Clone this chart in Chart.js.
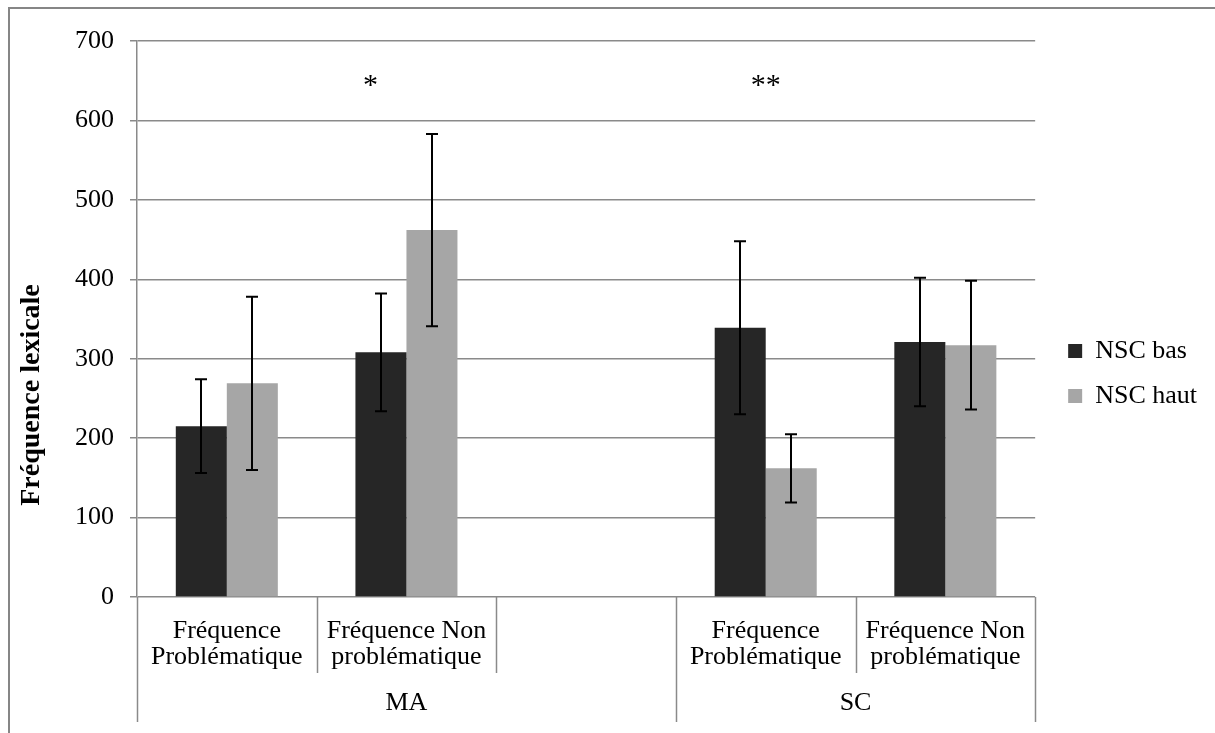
<!DOCTYPE html>
<html>
<head>
<meta charset="utf-8">
<script src="https://cdn.jsdelivr.net/npm/chart.js@4.4.0/dist/chart.umd.min.js"></script>
<style>
  html, body { margin: 0; padding: 0; background: #fff; }
  #chart { display: block; }
</style>
</head>
<body>
<canvas id="chart" width="1215" height="733"></canvas>
<script>
// categories (the third slot is the empty gap at the end of the MA group)
const categories = [
    ['Fréquence', 'Problématique'],
    ['Fréquence Non', 'problématique'],
    '',
    ['Fréquence', 'Problématique'],
    ['Fréquence Non', 'problématique']
];
const groups = ['MA', 'SC'];
const groupSizes = [3, 2];

// series
const seriesNames = ['NSC bas', 'NSC haut'];
const nscBas = [215, 308, null, 339, 321];
const nscHaut = [269, 462, null, 162, 317];
const nscBasErr = [59, 74, null, 109, 81];
const nscHautErr = [109, 121, null, 43, 81];

// y axis ticks
const yTicks = [0, 100, 200, 300, 400, 500, 600, 700];
const yTitle = 'Fréquence lexicale';

// significance marks
const starText = ['*', '**'];
const starX = [0.8, 3.0];
const starY = [648, 648];

const FONT = '"Liberation Serif", "Times New Roman", serif';
const GRID = '#8a8a8a';

// group axis: one tick in the middle of each group
const groupBounds = [0];
groupSizes.forEach(n => groupBounds.push(groupBounds[groupBounds.length - 1] + n));
const groupMids = groups.map((g, i) => (groupBounds[i] + groupBounds[i + 1]) / 2);

const frame = {
    id: 'frame',
    beforeDraw(chart) {
        const ctx = chart.ctx;
        ctx.save();
        ctx.fillStyle = '#fff';
        ctx.fillRect(0, 0, chart.width, chart.height);
        ctx.strokeStyle = '#868686';
        ctx.lineWidth = 2;
        ctx.beginPath();
        ctx.moveTo(9, chart.height);
        ctx.lineTo(9, 8);
        ctx.lineTo(chart.width, 8);
        ctx.stroke();
        ctx.restore();
    }
};

// y title drawn by hand so it can sit lower than the plot centre, as in the original
const yTitlePlugin = {
    id: 'yTitle',
    afterDraw(chart) {
        const ctx = chart.ctx;
        ctx.save();
        ctx.translate(32, 395);
        ctx.rotate(-Math.PI / 2);
        ctx.fillStyle = '#000';
        ctx.font = 'bold 28px ' + FONT;
        ctx.textAlign = 'center';
        ctx.textBaseline = 'middle';
        ctx.fillText(yTitle, 0, 0);
        ctx.restore();
    }
};

// separators between categories and between groups, below the axis
const separators = {
    id: 'separators',
    afterDraw(chart) {
        const g = chart.scales.group;
        const top = chart.chartArea.bottom;
        const ctx = chart.ctx;
        ctx.save();
        ctx.strokeStyle = GRID;
        ctx.lineWidth = 1.5;
        for (let b = 0; b <= categories.length; b++) {
            const x = Math.round(g.getPixelForValue(b)) + 0.5;
            const long = groupBounds.includes(b);
            ctx.beginPath();
            ctx.moveTo(x, top);
            ctx.lineTo(x, long ? 722 : 673);
            ctx.stroke();
        }
        ctx.restore();
    }
};

const errorBars = {
    id: 'errorBars',
    afterDatasetsDraw(chart) {
        const errs = [nscBasErr, nscHautErr];
        const y = chart.scales.y;
        const ctx = chart.ctx;
        ctx.save();
        ctx.strokeStyle = '#000';
        ctx.lineWidth = 2;
        chart.data.datasets.forEach((ds, d) => {
            const meta = chart.getDatasetMeta(d);
            ds.data.forEach((v, i) => {
                if (v === null) return;
                const x = Math.round(meta.data[i].x);
                const t = y.getPixelForValue(v + errs[d][i]);
                const b = y.getPixelForValue(v - errs[d][i]);
                ctx.beginPath();
                ctx.moveTo(x, t); ctx.lineTo(x, b);
                ctx.moveTo(x - 6, t); ctx.lineTo(x + 6, t);
                ctx.moveTo(x - 6, b); ctx.lineTo(x + 6, b);
                ctx.stroke();
            });
        });
        ctx.restore();
    }
};

const stars = {
    id: 'stars',
    afterDraw(chart) {
        const ctx = chart.ctx;
        ctx.save();
        ctx.fillStyle = '#000';
        ctx.font = '30px ' + FONT;
        ctx.textAlign = 'center';
        ctx.textBaseline = 'middle';
        starText.forEach((s, i) => {
            ctx.fillText(s, chart.scales.x.getPixelForValue(starX[i]), chart.scales.y.getPixelForValue(starY[i]) + 4);
        });
        ctx.restore();
    }
};

new Chart(document.getElementById('chart'), {
    type: 'bar',
    data: {
        labels: categories,
        datasets: [
            { label: seriesNames[0], data: nscBas, backgroundColor: '#262626' },
            { label: seriesNames[1], data: nscHaut, backgroundColor: '#a6a6a6' }
        ]
    },
    options: {
        responsive: false,
        devicePixelRatio: 1,
        animation: false,
        categoryPercentage: 0.568,
        barPercentage: 1,
        layout: { padding: { top: 41, right: 8, bottom: 11, left: 59 } },
        scales: {
            x: {
                grid: { display: false, drawTicks: false },
                border: { display: false },
                afterFit: (scale) => { scale.height = 76; },
                ticks: {
                    color: '#000',
                    font: { family: FONT, size: 26, lineHeight: 1.0 },
                    padding: 21,
                    maxRotation: 0,
                    autoSkip: false
                }
            },
            group: {
                type: 'linear',
                position: 'bottom',
                offset: false,
                min: 0,
                max: categories.length,
                grid: { display: false, drawTicks: false },
                border: { display: false },
                afterFit: (scale) => { scale.height = 49; },
                afterBuildTicks: (axis) => { axis.ticks = groupMids.map(v => ({ value: v })); },
                ticks: {
                    color: '#000',
                    font: { family: FONT, size: 26, lineHeight: 1.0 },
                    padding: 17,
                    maxRotation: 0,
                    autoSkip: false,
                    callback: (v) => groups[groupMids.indexOf(v)]
                }
            },
            y: {
                min: 0,
                max: 700,
                afterBuildTicks: (axis) => { axis.ticks = yTicks.map(v => ({ value: v })); },
                grid: { color: GRID, lineWidth: 1.5, tickLength: 7 },
                border: { color: GRID, width: 1.5 },
                ticks: {
                    color: '#000',
                    font: { family: FONT, size: 26 },
                    padding: 16
                }
            },
            // empty strip between the plot and the legend
            gap: {
                type: 'linear',
                position: 'right',
                grid: { display: false, drawTicks: false },
                border: { display: false },
                ticks: { display: false },
                afterFit: (scale) => { scale.width = 14; }
            }
        },
        plugins: {
            legend: {
                position: 'right',
                align: 'start',
                // empty title used as a spacer to push the entries down
                title: {
                    display: true,
                    text: '',
                    font: { size: 10, lineHeight: 1.0 },
                    padding: { top: 0, bottom: 268 }
                },
                labels: {
                    color: '#000',
                    font: { family: FONT, size: 26 },
                    boxWidth: 14,
                    boxHeight: 14,
                    padding: 19
                }
            },
            tooltip: { enabled: false }
        }
    },
    plugins: [frame, yTitlePlugin, separators, errorBars, stars]
});
</script>
</body>
</html>
